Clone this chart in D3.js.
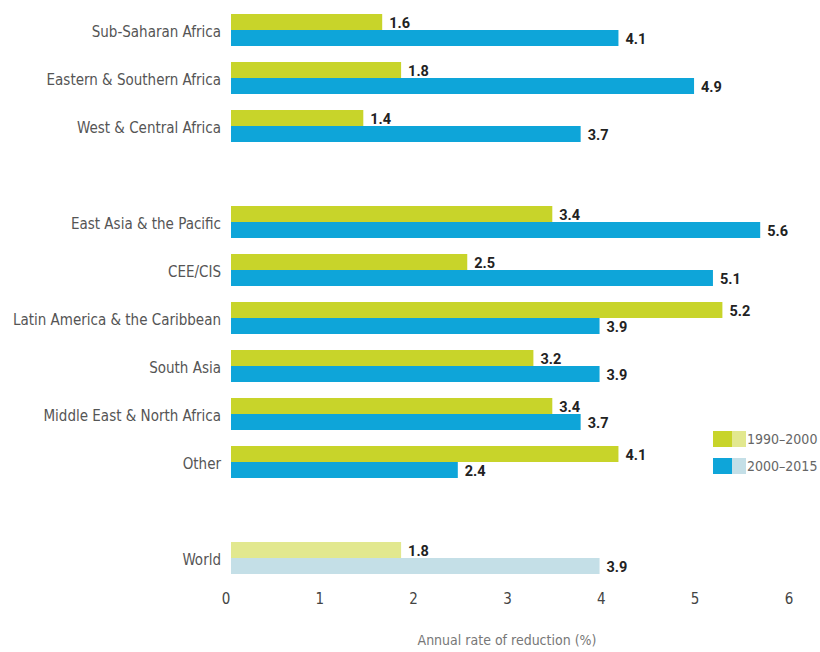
<!DOCTYPE html>
<html>
<head>
<meta charset="utf-8">
<script src="https://cdn.jsdelivr.net/npm/d3@7"></script>
<style>
  html, body { margin: 0; padding: 0; background: #fff; }
  svg { display: block; }
  .cat { font-family: "DejaVu Sans Condensed", "Liberation Sans Narrow", sans-serif; font-size: 15px; fill: #555; }
  .val { font-family: Roboto, "DejaVu Sans Condensed", sans-serif; font-size: 14.5px; font-weight: bold; fill: #222; }
  .tick-lbl { font-family: "DejaVu Sans Condensed", sans-serif; font-size: 15px; fill: #444; }
  .title { font-family: "DejaVu Sans Condensed", sans-serif; font-size: 14px; fill: #777; }
  .leg { font-family: "DejaVu Sans Condensed", sans-serif; font-size: 14px; fill: #666; }
</style>
</head>
<body>
<svg id="chart" width="820" height="652"></svg>
<script>
// Regions, in display order; null marks a gap between region groups
const regions = [
  "Sub-Saharan Africa", "Eastern & Southern Africa", "West & Central Africa",
  null,
  "East Asia & the Pacific", "CEE/CIS", "Latin America & the Caribbean",
  "South Asia", "Middle East & North Africa", "Other",
  null,
  "World"
];
// Annual rate of reduction (%), per region (null for gaps)
const rate1990to2000 = [1.6, 1.8, 1.4, null, 3.4, 2.5, 5.2, 3.2, 3.4, 4.1, null, 1.8];
const rate2000to2015 = [4.1, 4.9, 3.7, null, 5.6, 5.1, 3.9, 3.9, 3.7, 2.4, null, 3.9];
const periods = ["1990–2000", "2000–2015"];
const xTicks = [0, 1, 2, 3, 4, 5, 6];

const colors = {
  "1990–2000": { main: "#c8d42a", light: "#e2e88f" },
  "2000–2015": { main: "#0ea5d9", light: "#c4dfe7" }
};

const svg = d3.select("#chart");

const rowKeys = regions.map((r, i) => r === null ? "gap" + i : r);
const rows = regions.map((r, i) => ({
  key: rowKeys[i],
  name: r,
  values: [rate1990to2000[i], rate2000to2015[i]]
})).filter(d => d.name !== null);

const x = d3.scaleLinear().domain([0, 6]).range([231, 798]);
const y = d3.scaleBand().domain(rowKeys).range([-2, 590]).padding(1 / 3);
const sub = d3.scaleBand().domain(periods).range([0, y.bandwidth()]);

const g = svg.append("g");

const row = g.selectAll("g.row").data(rows).join("g")
  .attr("class", "row")
  .attr("transform", d => `translate(0,${y(d.key)})`);

// Bars
row.selectAll("rect").data(d => periods.map((p, j) => ({ p, v: d.values[j], world: d.name === "World" })))
  .join("rect")
  .attr("x", x(0))
  .attr("y", d => sub(d.p))
  .attr("width", d => x(d.v) - x(0))
  .attr("height", sub.bandwidth())
  .attr("fill", d => d.world ? colors[d.p].light : colors[d.p].main);

// Value labels
row.selectAll("text.val").data(d => periods.map((p, j) => ({ p, v: d.values[j] })))
  .join("text")
  .attr("class", "val")
  .attr("x", d => x(d.v) + 7)
  .attr("y", d => sub(d.p) + sub.bandwidth() - 2)
  .text(d => d3.format(".1f")(d.v));

// Region labels
row.append("text")
  .attr("class", "cat")
  .attr("x", 221)
  .attr("y", y.bandwidth() / 2 + 7)
  .attr("text-anchor", "end")
  .text(d => d.name);

// X axis tick labels
g.selectAll("text.tick-lbl").data(xTicks).join("text")
  .attr("class", "tick-lbl")
  .attr("x", d => x(d) - 5 - d * 0.67)
  .attr("y", 604)
  .attr("text-anchor", "middle")
  .text(d => d);

// Axis title
g.append("text")
  .attr("class", "title")
  .attr("x", 507)
  .attr("y", 645)
  .attr("text-anchor", "middle")
  .text("Annual rate of reduction (%)");

// Legend
const leg = g.selectAll("g.leg").data(periods).join("g")
  .attr("class", "leg")
  .attr("transform", (d, i) => `translate(713,${431 + i * 27})`);
leg.append("rect").attr("width", 19).attr("height", 16).attr("fill", d => colors[d].main);
leg.append("rect").attr("x", 19).attr("width", 14).attr("height", 16).attr("fill", d => colors[d].light);
leg.append("text").attr("class", "leg").attr("x", 34).attr("y", 13).text(d => d);
</script>
</body>
</html>
